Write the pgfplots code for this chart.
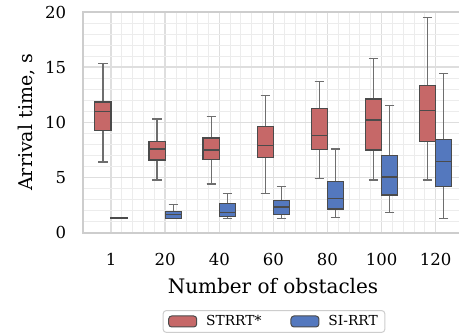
\documentclass[border=0pt]{standalone}
\usepackage{fontspec}
\setmainfont{DejaVu Serif}
\usepackage{pgfplots}
\pgfplotsset{compat=1.18}
\usepgfplotslibrary{statistics}
\definecolor{cred}{RGB}{198,104,104}
\definecolor{cblue}{RGB}{84,120,190}
\definecolor{edge}{RGB}{75,75,75}
\definecolor{whisk}{RGB}{110,110,110}
\definecolor{majgrid}{RGB}{222,222,222}
\definecolor{mingrid}{RGB}{236,236,236}
\definecolor{frame}{RGB}{205,205,205}
\begin{document}
\begin{tikzpicture}
\begin{axis}[
  scale only axis,
  width=379.4bp, height=220.5bp,
  xmin=-0.513, xmax=6.5,
  ymin=0, ymax=20,
  xtick={0,1,2,3,4,5,6},
  xticklabels={1,20,40,60,80,100,120},
  ytick={0,5,10,15,20},
  minor x tick num=4,
  minor y tick num=4,
  grid=both,
  major grid style={majgrid, line width=1.4bp},
  minor grid style={mingrid, line width=0.9bp},
  axis line style={frame, line width=2bp},
  tick style={draw=none},
  /pgf/number format/assume math mode=true,
  ticklabel style={font=\fontsize{16.5bp}{19bp}\selectfont},
  xticklabel style={anchor=base, yshift=-33bp},
  yticklabel style={anchor=east, inner sep=0pt, xshift=-17bp},
  xlabel={Number of obstacles},
  ylabel={Arrival time, s},
  xlabel style={font=\fontsize{20bp}{23bp}\selectfont, at={(axis description cs:0.5,0)}, anchor=base, yshift=-61bp},
  ylabel style={font=\fontsize{19bp}{22bp}\selectfont, at={(axis description cs:-0.1352,0.5)}, anchor=base},
  boxplot/draw direction=y,
  boxplot/box extend=0.3,
  boxplot/whisker extend=0.17,
  boxplot/every box/.style={draw=edge, line width=1.2bp},
  boxplot/every whisker/.style={draw=whisk, line width=1.2bp},
  boxplot/every median/.style={draw=edge, line width=1.2bp},
  legend columns=2,
  legend style={at={(axis description cs:0.5026,-0.352)}, anchor=north,
    draw=frame, line width=1bp, rounded corners=3bp,
    font=\fontsize{13.8bp}{16bp}\selectfont,
    inner xsep=5bp, inner ysep=3bp,
    /tikz/every odd column/.append style={column sep=7bp},
    /tikz/every even column/.append style={column sep=27bp}},
  legend image code/.code={\draw[#1] (0bp,-5.5bp) rectangle (28bp,5.5bp);},
]
\coordinate (ll) at (rel axis cs:0,0);
\addlegendimage{fill=cred, draw=edge, line width=1bp}
\addlegendentry{STRRT*}
\addlegendimage{fill=cblue, draw=edge, line width=1bp}
\addlegendentry{SI-RRT}
% STRRT*
\addplot[fill=cred, boxplot prepared={draw position=-0.15, lower whisker=6.4, lower quartile=9.26, median=11.0, upper quartile=11.83, upper whisker=15.3}] coordinates {};
\addplot[fill=cred, boxplot prepared={draw position=0.85, lower whisker=4.77, lower quartile=6.58, median=7.57, upper quartile=8.24, upper whisker=10.29}] coordinates {};
\addplot[fill=cred, boxplot prepared={draw position=1.85, lower whisker=4.4, lower quartile=6.64, median=7.48, upper quartile=8.57, upper whisker=10.5}] coordinates {};
\addplot[fill=cred, boxplot prepared={draw position=2.85, lower whisker=3.56, lower quartile=6.79, median=7.9, upper quartile=9.62, upper whisker=12.43}] coordinates {};
\addplot[fill=cred, boxplot prepared={draw position=3.85, lower whisker=4.92, lower quartile=7.54, median=8.78, upper quartile=11.25, upper whisker=13.73}] coordinates {};
\addplot[fill=cred, boxplot prepared={draw position=4.85, lower whisker=4.77, lower quartile=7.48, median=10.2, upper quartile=12.1, upper whisker=15.77}] coordinates {};
\addplot[fill=cred, boxplot prepared={draw position=5.85, lower whisker=4.77, lower quartile=8.24, median=11.1, upper quartile=13.33, upper whisker=19.52}] coordinates {};
% SI-RRT
\addplot[fill=cblue, boxplot prepared={draw position=0.15, lower whisker=1.25, lower quartile=1.25, median=1.28, upper quartile=1.31, upper whisker=1.31}] coordinates {};
\addplot[fill=cblue, boxplot prepared={draw position=1.15, lower whisker=1.27, lower quartile=1.3, median=1.63, upper quartile=1.87, upper whisker=2.53}] coordinates {};
\addplot[fill=cblue, boxplot prepared={draw position=2.15, lower whisker=1.27, lower quartile=1.48, median=1.78, upper quartile=2.6, upper whisker=3.53}] coordinates {};
\addplot[fill=cblue, boxplot prepared={draw position=3.15, lower whisker=1.27, lower quartile=1.63, median=2.32, upper quartile=2.92, upper whisker=4.19}] coordinates {};
\addplot[fill=cblue, boxplot prepared={draw position=4.15, lower whisker=1.38, lower quartile=2.14, median=3.1, upper quartile=4.64, upper whisker=7.57}] coordinates {};
\addplot[fill=cblue, boxplot prepared={draw position=5.15, lower whisker=1.81, lower quartile=3.41, median=5.04, upper quartile=7.0, upper whisker=11.52}] coordinates {};
\addplot[fill=cblue, boxplot prepared={draw position=6.15, lower whisker=1.3, lower quartile=4.14, median=6.45, upper quartile=8.45, upper whisker=14.42}] coordinates {};
\end{axis}
\pgfresetboundingbox
\path (ll) ++(-83.3bp,-102.5bp) rectangle ++(459bp,335bp);
\end{tikzpicture}
\end{document}
